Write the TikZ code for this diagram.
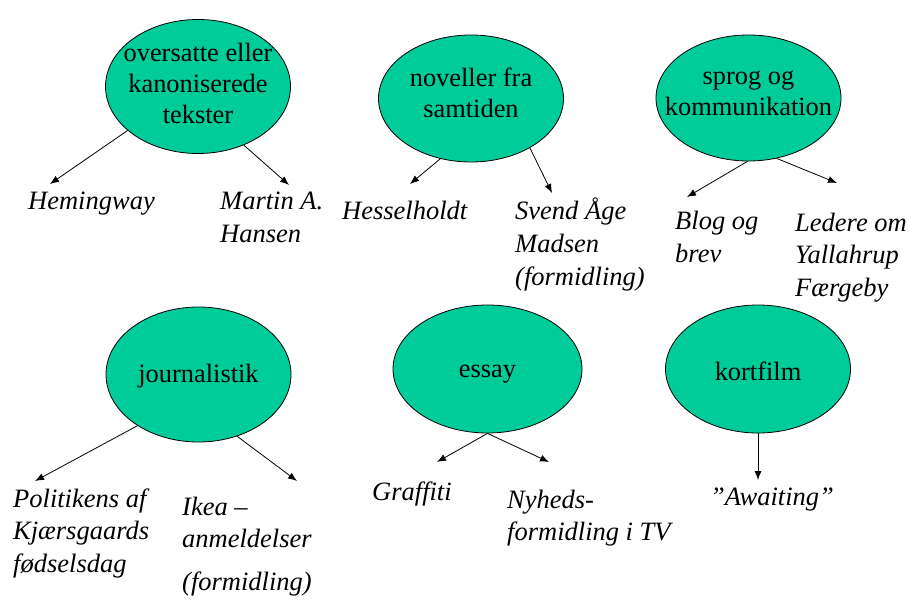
\documentclass[tikz,border=0pt]{standalone}
\usepackage{fontspec}
\setmainfont{Liberation Serif}
\usepackage{tikz}
\usetikzlibrary{arrows.meta,shapes.geometric,positioning}
\usetikzlibrary{calc}

\definecolor{bubblegreen}{RGB}{0,204,153}
\newcommand{\bubblefont}{\fontsize{26.4}{31}\selectfont}
\newcommand{\leaffont}{\fontsize{26.5}{32.5}\selectfont\itshape}

\begin{document}
\begin{tikzpicture}[x=1pt, y=-1pt]
        \tikzstyle{bubble} = [ellipse, draw, line width=0.8pt, fill=bubblegreen,
                              minimum width=185pt, minimum height=132pt, inner sep=0pt]
        \tikzstyle{btext} = [font=\bubblefont, align=center, inner sep=0pt]
        \tikzstyle{leaf} = [font=\leaffont, align=left, anchor=base west, inner sep=0pt]
        \tikzstyle{arrow} = [draw, line width=0.8pt, -{Latex[length=9pt,width=7pt]}]
        \useasboundingbox (0,0) rectangle (909,601);
        % upper row
        \node[bubble, minimum height=134pt] (over) at (198,86.5) {};
        \node[btext] (overtxt) at ([yshift=3pt]over.center)
          {oversatte eller\\kanoniserede\\tekster};
        \node[bubble, minimum height=127pt] (novel) at (471,98.5) {};
        \node[btext] (noveltxt) at ([yshift=6pt]novel.center) {noveller fra\\samtiden};
        \node[bubble, minimum height=126pt] (sprog) at (748.5,98) {};
        \node[btext] (sprogtxt) at ([yshift=5pt]sprog.center) {sprog og\\kommunikation};
        % lower row
        \node[bubble, minimum height=135pt] (journ) at (198.5,374.5) {};
        \node[btext] (journtxt) at ([yshift=-2pt]journ.center) {journalistik};
        \node[bubble, minimum height=128pt, minimum width=189pt] (essay) at (487.5,369) {};
        \node[btext] (essaytxt) at ([yshift=-5pt]essay.center) {essay};
        \node[bubble, minimum height=128pt] (kort) at (758,369) {};
        \node[btext] (korttxt) at ([yshift=-2pt]kort.center) {kortfilm};

        % texts under the bubbles (base = last line)
        \node[leaf] (hem) at (28,210) {Hemingway};
        \node[leaf] (martin) at (220,242.5) {Martin A.\\Hansen};
        \node[leaf] (hessel) at (342,220) {Hesselholdt};
        \node[leaf] (svend) at (515,285) {Svend Åge\\Madsen\\(formidling)};
        \node[leaf] (blog) at (675,262.5) {Blog og\\brev};
        \node[leaf] (ledere) at (795,296) {Ledere om\\Yallahrup\\Færgeby};
        \node[leaf] (polit) at (13,572) {Politikens af\\Kjærsgaards\\fødselsdag};
        \node[leaf] (ikea) at (182,590) {Ikea –\\anmeldelser\\[10pt](formidling)};
        \node[leaf] (graff) at (372,500) {Graffiti};
        \node[leaf] (nyhed) at (507,540.5) {Nyheds-\\formidling i TV};
        \node[leaf] (await) at (710,505) {”Awaiting”};

        % arrow ends
        \coordinate (hemtip) at (50,184);
        \coordinate (martintip) at (289,185);
        \coordinate (hesseltip) at (410,184);
        \coordinate (svendtip) at (552,193);
        \coordinate (blogtip) at (687,197);
        \coordinate (ledertip) at (837,183);
        \coordinate (polittip) at (35,481);
        \coordinate (ikeatip) at (297,481);
        \coordinate (grafftip) at (437,462);
        \coordinate (nyhedtip) at (549,462);
        \coordinate (awaittip) at (kort.south |- 0,480);

        \path[arrow] (over.212) -- (hemtip);
        \path[arrow] (over.308) -- (martintip);
        \path[arrow] (novel.243) -- (hesseltip);
        \path[arrow] (novel.320) -- (svendtip);
        \path[arrow] (sprog.269) -- (blogtip);
        \path[arrow] (sprog.295) -- (ledertip);
        \path[arrow] (journ.220) -- (polittip);
        \path[arrow] (journ.302) -- (ikeatip);
        \path[arrow] (essay.south) -- (grafftip);
        \path[arrow] (essay.south) -- (nyhedtip);
        \path[arrow] (kort.south) -- (awaittip);
\end{tikzpicture}
\end{document}
